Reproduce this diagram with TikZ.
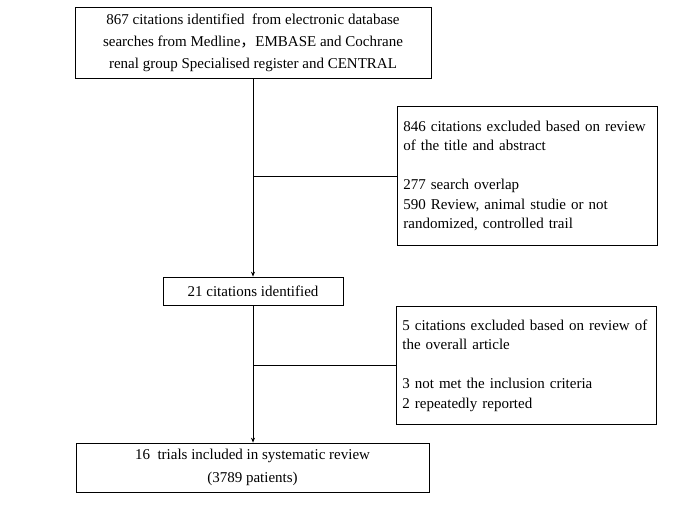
\documentclass[tikz,border=0pt]{standalone}
\usepackage{fontspec}
\setmainfont{Liberation Serif}
\newfontfamily\cjk{Noto Sans CJK SC}
\usetikzlibrary{arrows.meta}
\tikzset{every picture/.style={line width=0.75pt}}
\tikzset{
  mainbox/.style={draw, align=center, inner sep=0pt, font=\fontsize{15}{22}\selectfont},
  sidebox/.style={draw, anchor=north west, align=left, text width=248pt, inner xsep=6pt, inner ysep=0pt, font=\fontsize{15}{19.5}\selectfont},
  flow/.style={-{Stealth[length=5pt,width=4pt]}}
}

\begin{document}
\begin{tikzpicture}[x=1pt,y=1pt,yscale=-1,xscale=1]
    \useasboundingbox (0,0) rectangle (685,513);
    % boxes
    \node[mainbox, minimum width=356pt, minimum height=71pt] (search) at (253,42.5) {867 citations identified~ from electronic database\\searches from Medline{\cjk ，}EMBASE and Cochrane\\renal group Specialised register and CENTRAL};
    \node[sidebox, minimum height=139pt] (excl1) at (397,106) {846 citations excluded based on review\\of the title and abstract\\[\baselineskip]277 search overlap\\590 Review, animal studie or not\\randomized, controlled trail};
    \node[mainbox, minimum width=180pt, minimum height=28pt] (mid) at (253,291) {21 citations identified};
    \node[sidebox, minimum height=118pt] (excl2) at (396,306) {5 citations excluded based on review of\\the overall article\\[\baselineskip]3 not met the inclusion criteria\\2 repeatedly reported};
    \node[mainbox, minimum width=353pt, minimum height=49pt, font=\fontsize{15}{23}\selectfont] (incl) at (252.5,467.5) {16~ trials included in systematic review\\(3789 patients)};
    % connectors
    \coordinate (j1) at (253,176);
    \coordinate (j2) at (253,365);
    \draw[flow] (search.south) -- (mid.north);
    \draw (j1) -- (j1 -| excl1.west);
    \draw[flow] (mid.south) -- (incl.north -| mid.south);
    \draw (j2) -- (j2 -| excl2.west);
\end{tikzpicture}
\end{document}
